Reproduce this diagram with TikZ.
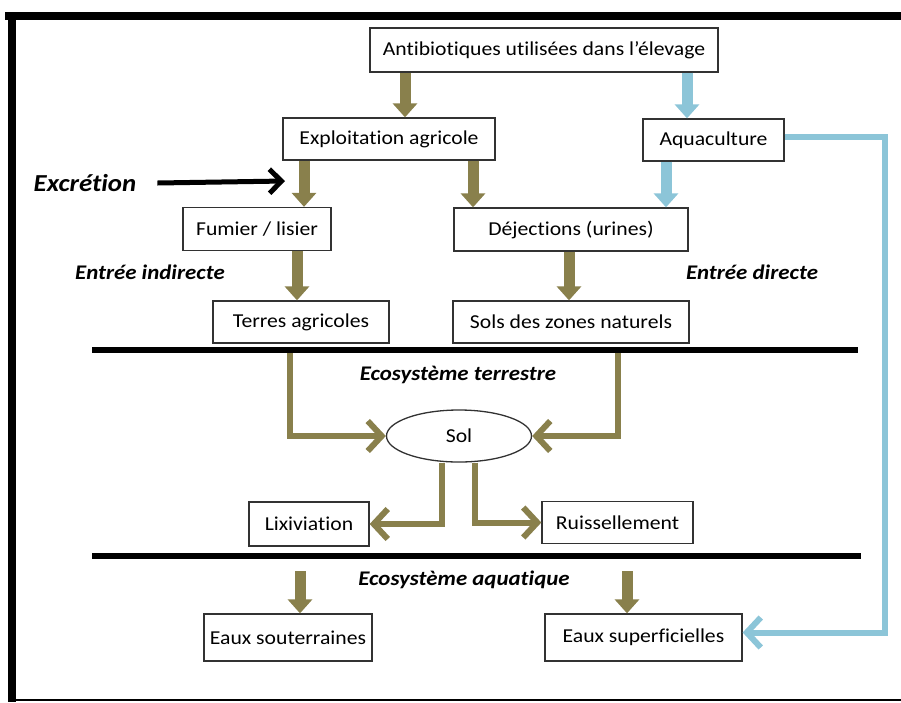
\documentclass[tikz,border=0pt]{standalone}
\usepackage{fontspec}
\setmainfont[FakeStretch=1.1, Ligatures=NoCommon]{Carlito}
\usetikzlibrary{arrows.meta,shapes.geometric}
\definecolor{fluxolive}{RGB}{137,128,76}
\definecolor{fluxblue}{RGB}{140,197,216}
\definecolor{boxline}{RGB}{50,50,50}
\tikzset{
  box/.style={draw=boxline, line width=1.3pt, fill=white, inner sep=0pt,
    font=\fontsize{19.7}{22}\selectfont},
  lbl/.style={font=\fontsize{20.8}{24}\selectfont\bfseries\itshape, inner sep=0pt},
  blk/.style={line width=11pt, -{Triangle[width=24pt,length=14pt]}},
  elb/.style={line width=6pt, fluxolive, line join=miter,
    -{Straight Barb[length=14pt,width=30pt]}},
  sep/.style={line width=6pt, black},
}
\begin{document}
\begin{tikzpicture}[x=1pt,y=-1pt]
\useasboundingbox (0,0) rectangle (901,702);
% frame
\fill[black] (5,12) rectangle (901,20);
\fill[black] (8,12) rectangle (16,702);
\draw[black, line width=2pt] (8,700) -- (901,700);

% boxes
\node[box, minimum width=348pt, minimum height=44pt] (anti) at (544,50) {Antibiotiques utilisées dans l’élevage};
\node[box, minimum width=212pt, minimum height=42pt] (expl) at (389,139) {Exploitation agricole};
\node[box, minimum width=141pt, minimum height=42pt] (aqua) at (713.5,140) {Aquaculture};
\node[box, minimum width=148pt, minimum height=43pt] (fum) at (257,229) {Fumier / lisier};
\node[box, minimum width=234pt, minimum height=43pt] (dej) at (571,229.5) {Déjections (urines)};
\node[box, minimum width=176pt, minimum height=42pt] (terr) at (301,322) {Terres agricoles};
\node[box, minimum width=236pt, minimum height=42pt] (sols) at (571,322) {Sols des zones naturels};
\node[box, ellipse, minimum width=145pt, minimum height=52pt] (sol) at (459,436) {Sol};
\node[box, minimum width=120pt, minimum height=44pt] (lix) at (309,524) {Lixiviation};
\node[box, minimum width=151pt, minimum height=42pt] (ruis) at (617.5,522.5) {Ruissellement};
\node[box, minimum width=168pt, minimum height=47pt] (easo) at (288,637.5) {Eaux souterraines};
\node[box, minimum width=197pt, minimum height=47pt] (easu) at (643.5,637.5) {Eaux superficielles};

% labels
\node[lbl, font=\fontsize{24.4}{28}\selectfont\bfseries\itshape] (excr) at (85,183) {Excrétion};
\node[lbl] (indir) at (150,272) {Entrée indirecte};
\node[lbl] (dir) at (752,272) {Entrée directe};
\node[lbl] (terre) at (458,375) {Ecosystème terrestre};
\node[lbl] (aquat) at (464,580) {Ecosystème aquatique};

% separators
\coordinate (s1a) at (92,350);
\coordinate (s1b) at (858,350);
\coordinate (s2a) at (92,556);
\coordinate (s2b) at (861,556);
\draw[sep] (s1a) -- (s1b);
\draw[sep] (s2a) -- (s2b);

% block arrows
\draw[blk, fluxolive] ([xshift=-139pt]anti.south) -- ([xshift=16pt]expl.north);
\draw[blk, fluxblue] ([xshift=143pt]anti.south) -- ([xshift=-26.5pt]aqua.north);
\draw[blk, fluxolive] ([xshift=-85pt]expl.south) -- ([xshift=47pt]fum.north);
\draw[blk, fluxolive] ([xshift=84pt]expl.south) -- ([xshift=-98pt]dej.north);
\draw[blk, fluxblue] ([xshift=-47.5pt]aqua.south) -- ([xshift=95pt]dej.north);
\draw[blk, fluxolive] ([xshift=40pt]fum.south) -- ([xshift=-4pt]terr.north);
\draw[blk, fluxolive] ([xshift=-2pt]dej.south) -- ([xshift=-2pt]sols.north);
\coordinate (d1) at (300,571);
\coordinate (d2) at (627,571);
\draw[blk, fluxolive] (d1) -- (easo.north -| d1);
\draw[blk, fluxolive] (d2) -- (easu.north -| d2);

% excretion arrow
\coordinate (extip) at (285,181);
\draw[line width=5pt, black, -{Straight Barb[length=12pt,width=24pt]}] ([xshift=21pt]excr.east) -- (extip);

% soil connectors
\coordinate (e1) at (290,353);
\coordinate (e2) at (618,353);
\draw[elb] (e1) |- (sol.west);
\draw[elb] (e2) |- (sol.east);
\draw[elb] ([xshift=-17pt]sol.south) |- (lix.east);
\draw[elb] ([xshift=16pt]sol.south) |- (ruis.west);

% aquaculture direct input
\coordinate (bx) at (885,400);
\draw[line width=6pt, fluxblue, line join=miter, -{Straight Barb[length=14pt,width=30pt]}]
  ([yshift=3pt]aqua.east) -| (bx) |- ([yshift=5pt]easu.east);
\end{tikzpicture}
\end{document}
